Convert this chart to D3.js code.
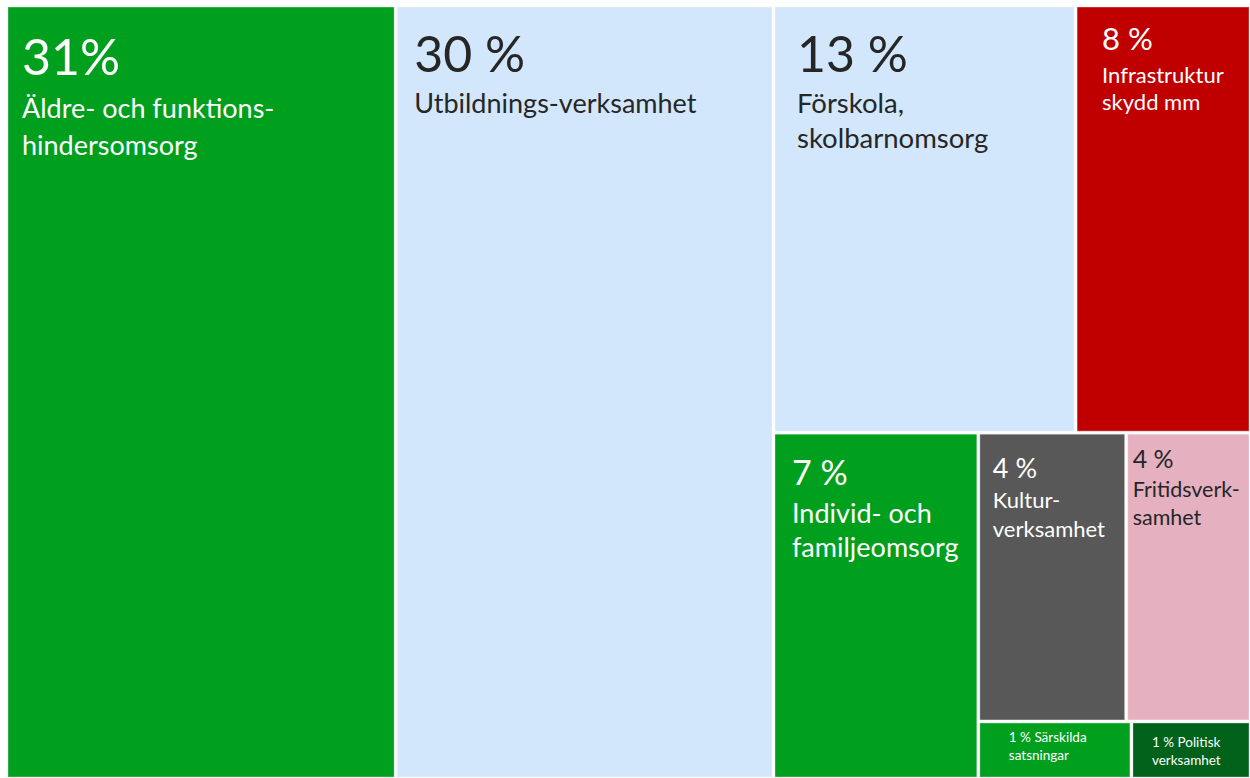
<!DOCTYPE html>
<html>
<head>
<meta charset="utf-8">
<script src="https://cdn.jsdelivr.net/npm/d3@7"></script>
<style>
  body { margin: 0; background: #fff; }
  text { font-family: Lato, "Open Sans", sans-serif; }
</style>
</head>
<body>
<div id="chart"></div>
<script>
// Data (shares estimated from tile areas, labels as printed)
const ids = ["aldre", "utb", "forskola", "infra", "ifo", "kultur", "fritid", "sarskilda", "politisk"];
const shares = [31.0, 30.1, 13.3, 7.7, 7.3, 4.4, 3.7, 0.9, 0.7];
const pctLabels = ["31%", "30 %", "13 %", "8 %", "7 %", "4 %", "4 %", "1 %", "1 %"];
const nameLines = [
  ["Äldre- och funktions-", "hindersomsorg"],
  ["Utbildnings-verksamhet"],
  ["Förskola,", "skolbarnomsorg"],
  ["Infrastruktur", "skydd mm"],
  ["Individ- och", "familjeomsorg"],
  ["Kultur-", "verksamhet"],
  ["Fritidsverk-", "samhet"],
  ["Särskilda", "satsningar"],
  ["Politisk", "verksamhet"]
];
// which group each tile sits in
const parents = ["root", "root", "top", "top", "bottom", "rowUp", "rowUp", "rowDown", "rowDown"];
const groups = [
  {id: "root", parent: null},
  {id: "right", parent: "root"},
  {id: "top", parent: "right"},
  {id: "bottom", parent: "right"},
  {id: "rest", parent: "bottom"},
  {id: "rowUp", parent: "rest"},
  {id: "rowDown", parent: "rest"}
];

// Styles
const fills = ["#00a01e", "#d2e6fc", "#d2e6fc", "#c00000", "#00a01e", "#585858", "#e5b0c0", "#00a01e", "#00621a"];
const textColors = ["#fff", "#262626", "#262626", "#fff", "#fff", "#fff", "#262626", "#fff", "#fff"];
// label placement relative to tile's top-left corner
const labelStyle = [
  {dx: 14, pctY: 68, pctSize: 50, nameY: 111, nameSize: 27, lineH: 37},
  {dx: 17, pctY: 65, pctSize: 50, nameY: 106, nameSize: 27, lineH: 35},
  {dx: 22, pctY: 65, pctSize: 50, nameY: 106, nameSize: 27.5, lineH: 35},
  {dx: 25, pctY: 43, pctSize: 31, nameY: 76, nameSize: 22, lineH: 27},
  {dx: 17, pctY: 51, pctSize: 34, nameY: 89, nameSize: 27, lineH: 34},
  {dx: 13, pctY: 44, pctSize: 27, nameY: 74, nameSize: 22, lineH: 29},
  {dx: 5, pctY: 34, pctSize: 25, nameY: 63, nameSize: 21.5, lineH: 28},
  {dx: 29, inline: true, nameY: 19, nameSize: 13.5, lineH: 18},
  {dx: 19, inline: true, nameY: 24, nameSize: 13.5, lineH: 18}
];

const width = 1250;
const height = 778;
const margin = {top: 7, right: 1, bottom: 1, left: 8};

const svg = d3.select("#chart")
  .append("svg")
  .attr("width", width)
  .attr("height", height)
  .append("g")
  .attr("transform", `translate(${margin.left},${margin.top})`);

// Build hierarchy table
const table = groups.map(g => ({id: g.id, parent: g.parent}))
  .concat(ids.map((id, i) => ({id: id, parent: parents[i], value: shares[i], index: i})));

const firstIndex = n => d3.min(n.leaves(), l => l.data.index);

const root = d3.stratify()
  .id(d => d.id)
  .parentId(d => d.parent)(table)
  .sum(d => d.value || 0)
  .sort((a, b) => firstIndex(a) - firstIndex(b));

d3.treemap()
  .size([width - margin.left - margin.right, height - margin.top - margin.bottom])
  .paddingInner(3)
  .tile(d3.treemapSliceDice)(root);

const leaves = svg.selectAll("g.tile")
  .data(root.leaves())
  .enter()
  .append("g")
  .attr("class", "tile")
  .attr("transform", d => `translate(${d.x0},${d.y0})`);

leaves.append("rect")
  .attr("width", d => d.x1 - d.x0)
  .attr("height", d => d.y1 - d.y0)
  .attr("fill", d => fills[d.data.index])
  .attr("stroke", "rgba(255,255,255,0.35)")
  .attr("stroke-width", 1);

leaves.each(function(d) {
  const i = d.data.index;
  const s = labelStyle[i];
  const g = d3.select(this);
  const lines = nameLines[i].slice();
  if (s.inline) {
    lines[0] = pctLabels[i] + " " + lines[0];
  } else {
    g.append("text")
      .attr("x", s.dx)
      .attr("y", s.pctY)
      .attr("fill", textColors[i])
      .style("font-size", s.pctSize + "px")
      .text(pctLabels[i]);
  }
  lines.forEach((line, k) => {
    g.append("text")
      .attr("x", s.dx)
      .attr("y", s.nameY + k * s.lineH)
      .attr("fill", textColors[i])
      .style("font-size", s.nameSize + "px")
      .text(line);
  });
});
</script>
</body>
</html>
